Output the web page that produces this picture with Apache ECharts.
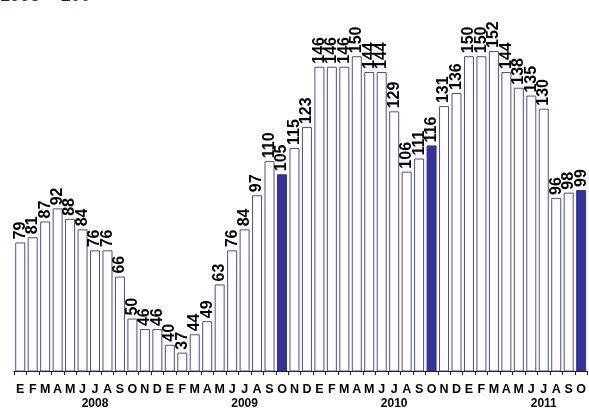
<!DOCTYPE html>
<html>
<head>
<meta charset="utf-8">
<script src="https://cdn.jsdelivr.net/npm/echarts@6/dist/echarts.min.js"></script>
<style>
  html, body { margin: 0; padding: 0; background: #fff; }
  #chart { width: 589px; height: 410px; }
</style>
</head>
<body>
<div id="chart"></div>
<script>
// monthly index, Jan 2008 .. Oct 2011 (1995 = 100)
const years = ['2008', '2009', '2010', '2011']
const monthInitials = ['E', 'F', 'M', 'A', 'M', 'J', 'J', 'A', 'S', 'O', 'N', 'D']
const values2008 = [79, 81, 87, 92, 88, 84, 76, 76, 66, 50, 46, 46]
const values2009 = [40, 37, 44, 49, 63, 76, 84, 97, 110, 105, 115, 123]
const values2010 = [146, 146, 146, 150, 144, 144, 129, 106, 111, 116, 131, 136]
const values2011 = [150, 150, 152, 144, 138, 135, 130, 96, 98, 99]
// solid bars: Oct 2009, Oct 2010, Oct 2011
const highlighted = ['2009-9', '2010-9', '2011-9']
const yearLabelMonth = 6

const perYear = [values2008, values2009, values2010, values2011]

let months = []
let yearLabels = []
let barData = []
perYear.forEach((vals, y) => {
    vals.forEach((v, m) => {
        months.push(monthInitials[m])
        yearLabels.push(m === yearLabelMonth ? years[y] : '')
        if (highlighted.includes(years[y] + '-' + m)) {
            barData.push({ value: v, itemStyle: { color: '#333399', borderColor: '#333399' } })
        } else {
            barData.push(v)
        }
    })
})

const font = 'Arial, "Liberation Sans", sans-serif'
const chart = echarts.init(document.getElementById('chart'), null, { renderer: 'canvas' })

chart.setOption({
    animation: false,
    graphic: [{
        type: 'text',
        left: 0,
        top: -13,
        style: {
            text: '1995 = 100',
            fill: '#1a1a80',
            font: 'bold 18px ' + font
        }
    }],
    grid: { left: 14, right: 0, top: 30, bottom: 37 },
    xAxis: [
        {
            type: 'category',
            data: months,
            axisLine: { lineStyle: { color: '#000', width: 1 } },
            axisTick: { show: true, length: 4, lineStyle: { color: '#222' } },
            axisLabel: {
                interval: 0, margin: 12, color: '#000',
                fontSize: 12.5, fontWeight: 'bold', fontFamily: font
            }
        },
        {
            type: 'category',
            position: 'bottom',
            data: yearLabels,
            axisLine: { show: false },
            axisTick: { show: false },
            axisLabel: {
                interval: 0, margin: 27, color: '#000',
                fontSize: 12, fontWeight: 'bold', fontFamily: font
            }
        }
    ],
    yAxis: { type: 'value', min: 30, max: 160, show: false },
    series: [{
        type: 'bar',
        xAxisIndex: 0,
        data: barData,
        barWidth: 10,
        itemStyle: { color: '#fff', borderColor: '#4a4aaa', borderWidth: 1 },
        label: {
            show: true,
            position: 'top',
            rotate: 90,
            align: 'left',
            verticalAlign: 'middle',
            distance: 3,
            color: '#000',
            fontSize: 16,
            fontWeight: 'bold',
            fontFamily: font
        }
    }]
})
</script>
</body>
</html>
